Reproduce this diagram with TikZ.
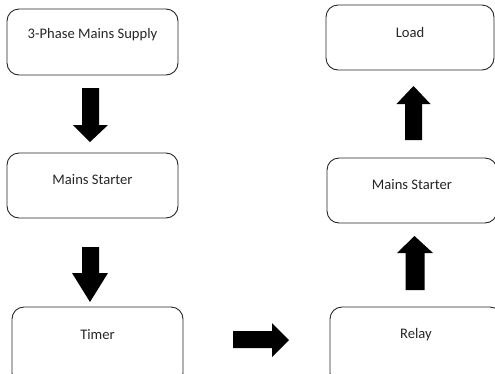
\documentclass[tikz,border=0pt]{standalone}
\usepackage{fontspec}
\setmainfont{Carlito}
\begin{document}
\begin{tikzpicture}[x=1pt,y=-1pt,
  boxstyle/.style={draw=black!85, line width=0.9pt, rounded corners=12pt},
  boxtext/.style={font=\fontsize{14.6}{17}\selectfont, text=black!85, inner sep=0pt},
  blockarrow/.style={fill=black, draw=none}]
\useasboundingbox (0,0) rectangle (495,373);
\clip (0,0) rectangle (495,373);
% boxes
\draw[boxstyle] (7,9) rectangle (178,75);
\node[boxtext] (t1) at (92.5,35) {3-Phase Mains Supply};
\draw[boxstyle] (7,153) rectangle (178,218);
\node[boxtext] (t2) at (92.5,180) {Mains Starter};
\draw[boxstyle] (12,307) rectangle (183,385);
\node[boxtext] (t3) at (97.5,335) {Timer};
\draw[boxstyle] (330,307) rectangle (502,385);
\node[boxtext] (t4) at (416,335) {Relay};
\draw[boxstyle] (327,158) rectangle (497,223);
\node[boxtext] (t5) at (412,185) {Mains Starter};
\draw[boxstyle] (326,5) rectangle (494,70);
\node[boxtext] (t6) at (410,32) {Load};
% block arrows
\coordinate (a1) at (90,142);
\fill[blockarrow] (a1) -- ++(-17,-17) -- ++(9,0) -- ++(0,-37) -- ++(17,0) -- ++(0,37) -- ++(9,0) -- cycle;
\coordinate (a2) at (90,302);
\fill[blockarrow] (a2) -- ++(-18,-29) -- ++(10,0) -- ++(0,-26) -- ++(17,0) -- ++(0,26) -- ++(9,0) -- cycle;
\coordinate (a3) at (289,340);
\fill[blockarrow] (a3) -- ++(-17,-17) -- ++(0,8) -- ++(-39,0) -- ++(0,17) -- ++(39,0) -- ++(0,9) -- cycle;
\coordinate (a4) at (413.5,86);
\fill[blockarrow] (a4) -- ++(-17,18) -- ++(8.5,0) -- ++(0,36) -- ++(17,0) -- ++(0,-36) -- ++(8.5,0) -- cycle;
\coordinate (a5) at (414.5,236);
\fill[blockarrow] (a5) -- ++(-17.5,17) -- ++(8.5,0) -- ++(0,37) -- ++(19,0) -- ++(0,-37) -- ++(8.5,0) -- cycle;
\end{tikzpicture}
\end{document}
